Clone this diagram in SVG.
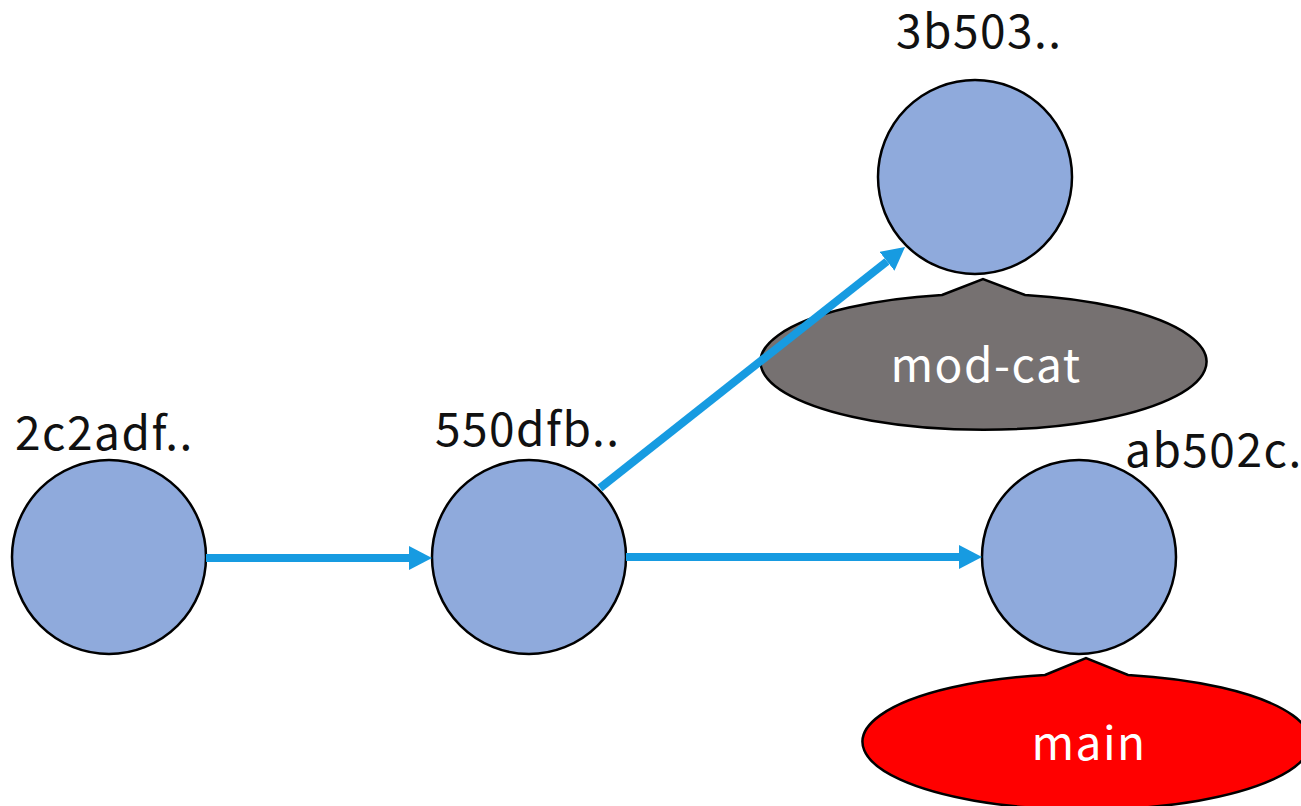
<svg xmlns="http://www.w3.org/2000/svg" width="1301" height="806" viewBox="0 0 1301 806">
<style>
.commit{fill:#8FAADC;stroke:#000;stroke-width:2.5}
.lbl{font-family:"Noto Sans CJK JP","Noto Sans",sans-serif;font-size:46px;letter-spacing:1.5px;fill:#111}
.tag{font-family:"Noto Sans CJK JP","Noto Sans",sans-serif;font-size:46px;letter-spacing:1.5px;fill:#fff;text-anchor:middle}
.conn{stroke:#179BE1;stroke-width:8;fill:none}
.callout{stroke:#000;stroke-width:2.5}
</style>
<defs>
<marker id="ah" markerWidth="24" markerHeight="24" refX="0" refY="12" orient="auto" markerUnits="userSpaceOnUse">
<path d="M0,0 L23,12 L0,24 Z" fill="#179BE1"/>
</marker>
</defs>
<rect width="1301" height="806" fill="#fff"/>
<g id="node-2c2adf">
<circle class="commit" cx="109" cy="557" r="97"/>
<text class="lbl" x="15" y="450">2c2adf..</text>
</g>
<g id="node-550dfb">
<circle class="commit" cx="529" cy="557" r="97"/>
<text class="lbl" x="435" y="446">550dfb..</text>
</g>
<g id="node-3b503">
<circle class="commit" cx="975" cy="177" r="97"/>
<text class="lbl" x="896" y="48">3b503..</text>
</g>
<g id="node-ab502c">
<circle class="commit" cx="1079" cy="557" r="97"/>
<text class="lbl" x="1125" y="467">ab502c..</text>
</g>
<g id="branch-mod-cat">
<path class="callout" fill="#767171" d="M942,295 L983,279 L1025,295 A223,68 0 1 1 942,295 Z"/>
<text class="tag" x="986" y="382">mod-cat</text>
</g>
<g id="branch-main">
<path class="callout" fill="#FF0000" d="M1045,675 L1086,658 L1128,675 A224,68 0 1 1 1045,675 Z"/>
<text class="tag" x="1089" y="760">main</text>
</g>
<g id="connectors">
<line class="conn" x1="206" y1="558" x2="409" y2="558" marker-end="url(#ah)"/>
<line class="conn" x1="626" y1="557" x2="959" y2="557" marker-end="url(#ah)"/>
<line class="conn" x1="600" y1="488" x2="887" y2="261.3" marker-end="url(#ah)"/>
</g>
</svg>
